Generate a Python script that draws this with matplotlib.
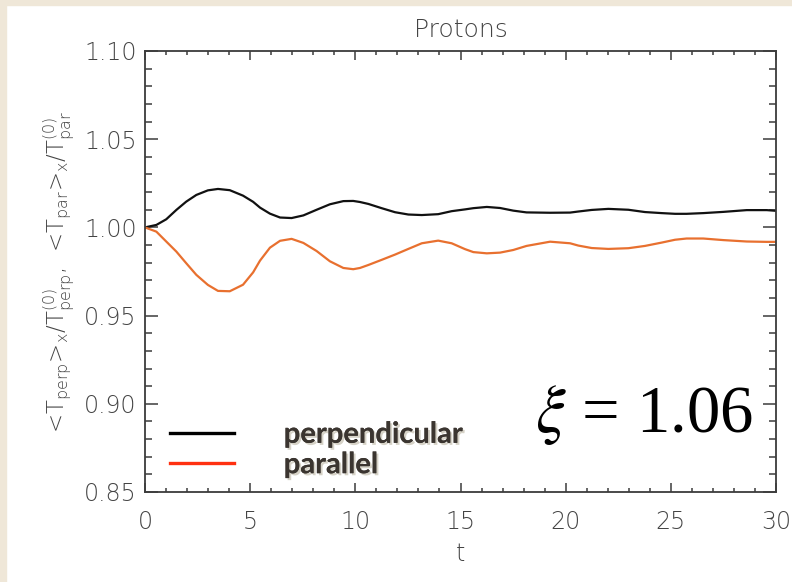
import matplotlib
matplotlib.use("Agg")
import matplotlib.pyplot as plt
import matplotlib.patheffects as pe
from matplotlib.lines import Line2D
from matplotlib.patches import Rectangle
from matplotlib.ticker import MultipleLocator, FormatStrFormatter

# ------------------------------------------------------------
# Data
# ------------------------------------------------------------

t = [0.0, 0.54, 1.01, 1.49, 1.96, 2.44, 2.99, 3.47, 4.03, 4.66,
     5.14, 5.47, 5.94, 6.42, 6.97, 7.53, 8.16, 8.79, 9.43, 9.90,
     10.22, 10.62, 11.25, 11.89, 12.52, 13.16, 13.94, 14.58, 15.21, 15.61,
     16.25, 16.88, 17.51, 18.14, 19.26, 20.21, 20.60, 21.24, 22.03, 22.98,
     23.77, 24.57, 25.20, 25.75, 26.54, 27.50, 28.61, 29.56, 30.0]

perp = [1.0000, 1.0014, 1.0046, 1.0099, 1.0146, 1.0184, 1.0210, 1.0218, 1.0211, 1.0180,
        1.0145, 1.0112, 1.0078, 1.0056, 1.0053, 1.0068, 1.0100, 1.0131, 1.0149, 1.0150,
        1.0144, 1.0133, 1.0109, 1.0086, 1.0073, 1.0070, 1.0075, 1.0092, 1.0102, 1.0109,
        1.0116, 1.0110, 1.0095, 1.0085, 1.0083, 1.0084, 1.0090, 1.0099, 1.0105, 1.0100,
        1.0087, 1.0081, 1.0077, 1.0077, 1.0081, 1.0088, 1.0098, 1.0098, 1.0094]

par = [1.0000, 0.9976, 0.9920, 0.9863, 0.9797, 0.9731, 0.9674, 0.9640, 0.9638, 0.9675,
       0.9745, 0.9812, 0.9885, 0.9924, 0.9935, 0.9912, 0.9866, 0.9808, 0.9770, 0.9763,
       0.9770, 0.9787, 0.9816, 0.9846, 0.9878, 0.9910, 0.9925, 0.9910, 0.9877, 0.9860,
       0.9853, 0.9857, 0.9872, 0.9895, 0.9919, 0.9910, 0.9897, 0.9883, 0.9878, 0.9882,
       0.9895, 0.9914, 0.9930, 0.9937, 0.9937, 0.9928, 0.9920, 0.9918, 0.9918]

SERIES_LABELS = ["perpendicular", "parallel"]

# ------------------------------------------------------------
# Colours
# ------------------------------------------------------------

PERP_COLOR = "#111111"
PAR_COLOR = "#e8702f"
LEG_PAR_COLOR = "#ff3010"
AXIS_COLOR = "#3c3c3c"
TEXT_COLOR = "#444444"
BORDER_COLOR = "#efe7d8"

plt.rcParams["mathtext.default"] = "regular"
plt.rcParams["font.family"] = "DejaVu Sans"

fig = plt.figure(figsize=(7.92, 5.82), dpi=100, facecolor="white")

# beige slide border on the left and top
fig.patches.append(Rectangle((0, 0), 6 / 792, 1, transform=fig.transFigure,
                             color=BORDER_COLOR, zorder=0))
fig.patches.append(Rectangle((0, 1 - 5 / 582), 1, 5 / 582, transform=fig.transFigure,
                             color=BORDER_COLOR, zorder=0))

ax = fig.add_axes([145 / 792, 1 - 492 / 582, 631 / 792, 441 / 582])

ax.plot(t, perp, color=PERP_COLOR, linewidth=1.6)
ax.plot(t, par, color=PAR_COLOR, linewidth=1.6)

ax.set_xlim(0, 30)
ax.set_ylim(0.85, 1.10)

ax.xaxis.set_major_locator(MultipleLocator(5))
ax.xaxis.set_minor_locator(MultipleLocator(1))
ax.yaxis.set_major_locator(MultipleLocator(0.05))
ax.yaxis.set_minor_locator(MultipleLocator(0.01))
ax.yaxis.set_major_formatter(FormatStrFormatter("%.2f"))

ax.tick_params(which="both", direction="in", top=True, right=True,
               color=AXIS_COLOR, width=1.1, labelcolor=TEXT_COLOR, labelsize=17)
ax.tick_params(axis="x", which="major", length=6.5, pad=13)
ax.tick_params(axis="x", which="minor", length=3.2)
ax.tick_params(axis="y", which="major", length=9.4, pad=6)
ax.tick_params(axis="y", which="minor", length=5)

for spine in ax.spines.values():
    spine.set_color(AXIS_COLOR)
    spine.set_linewidth(1.3)

for lab in ax.get_xticklabels() + ax.get_yticklabels():
    lab.set_fontweight("light")

ax.set_title("Protons", fontsize=18, color=TEXT_COLOR, pad=10, fontweight="light")
ax.set_xlabel("t", fontsize=17, color=TEXT_COLOR, labelpad=6, fontweight="light")
ax.set_ylabel(r"<T$_{perp}$>$_{x}$/T$^{(0)}_{perp}$,  <T$_{par}$>$_{x}$/T$^{(0)}_{par}$",
              fontsize=16.5, color=TEXT_COLOR, labelpad=6, fontweight="light")

# legend
handles = [Line2D([], [], color="black", linewidth=2.4),
           Line2D([], [], color=LEG_PAR_COLOR, linewidth=2.4)]
leg = ax.legend(handles, SERIES_LABELS, loc="center left",
                bbox_to_anchor=(25 / 631, 42 / 441), frameon=False,
                borderpad=0, borderaxespad=0, handlelength=2.2,
                handletextpad=1.7, labelspacing=0.15,
                prop={"family": "Lato", "weight": "bold", "size": 21})
for txt in leg.get_texts():
    txt.set_color("#3b3530")
    txt.set_path_effects([
        pe.withSimplePatchShadow(offset=(1.5, -1.5), shadow_rgbFace="#8a8060", alpha=0.35),
        pe.Normal(),
    ])

# parameter annotation
ax.text(390 / 631, 60 / 441, r"$\mathit{\xi}$ = 1.06", transform=ax.transAxes,
        fontsize=48, family="Liberation Serif", math_fontfamily="stix",
        ha="left", va="baseline", color="black")

fig.savefig("out.png", dpi=100, facecolor=fig.get_facecolor())
